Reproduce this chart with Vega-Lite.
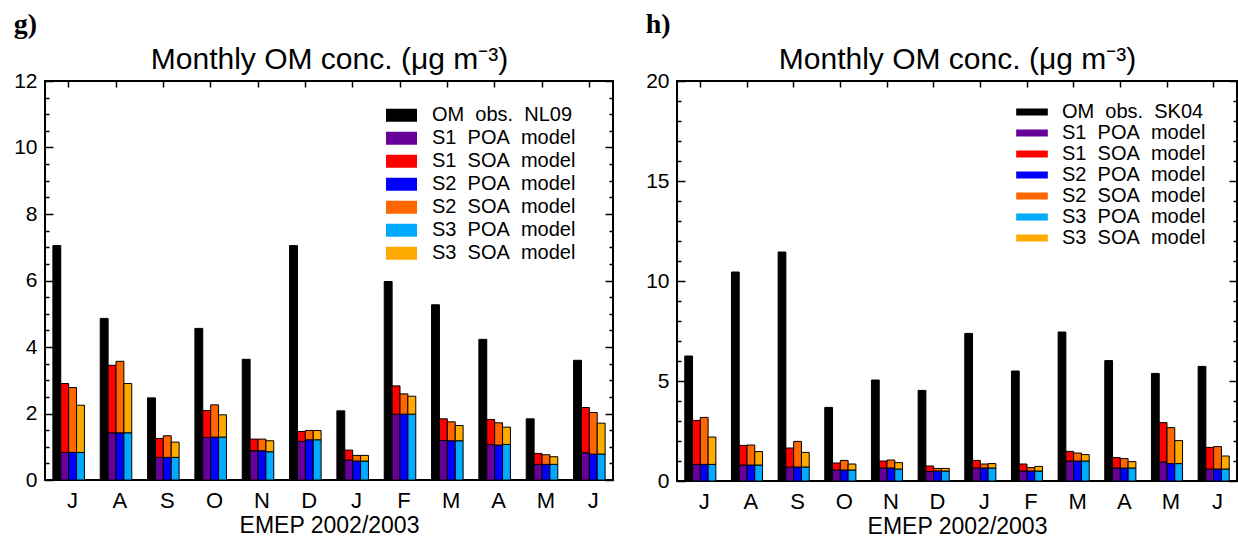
{
  "$schema": "https://vega.github.io/schema/vega-lite/v6.json",
  "padding": {"left": 12, "top": 10, "right": 0, "bottom": 0},
  "background": "white",
  "config": {
    "font": "Liberation Sans",
    "view": {"stroke": "black", "strokeWidth": 2},
    "axis": {"grid": false, "tickColor": "black", "labelColor": "black", "titleColor": "black", "labelFont": "Liberation Sans", "titleFont": "Liberation Sans"},
    "title": {"color": "black"},
    "legend": {"labelColor": "black"}
  },
  "datasets": {
    "g": [
      {"m":1,"b":"obs","s":"obs","v":7.05},{"m":1,"b":"S1","s":"S1 POA","v":0.83},{"m":1,"b":"S1","s":"S1 SOA","v":2.07},{"m":1,"b":"S2","s":"S2 POA","v":0.83},{"m":1,"b":"S2","s":"S2 SOA","v":1.95},{"m":1,"b":"S3","s":"S3 POA","v":0.83},{"m":1,"b":"S3","s":"S3 SOA","v":1.42},
      {"m":2,"b":"obs","s":"obs","v":4.86},{"m":2,"b":"S1","s":"S1 POA","v":1.42},{"m":2,"b":"S1","s":"S1 SOA","v":2.03},{"m":2,"b":"S2","s":"S2 POA","v":1.42},{"m":2,"b":"S2","s":"S2 SOA","v":2.15},{"m":2,"b":"S3","s":"S3 POA","v":1.42},{"m":2,"b":"S3","s":"S3 SOA","v":1.48},
      {"m":3,"b":"obs","s":"obs","v":2.47},{"m":3,"b":"S1","s":"S1 POA","v":0.68},{"m":3,"b":"S1","s":"S1 SOA","v":0.57},{"m":3,"b":"S2","s":"S2 POA","v":0.68},{"m":3,"b":"S2","s":"S2 SOA","v":0.65},{"m":3,"b":"S3","s":"S3 POA","v":0.68},{"m":3,"b":"S3","s":"S3 SOA","v":0.46},
      {"m":4,"b":"obs","s":"obs","v":4.56},{"m":4,"b":"S1","s":"S1 POA","v":1.28},{"m":4,"b":"S1","s":"S1 SOA","v":0.81},{"m":4,"b":"S2","s":"S2 POA","v":1.29},{"m":4,"b":"S2","s":"S2 SOA","v":0.97},{"m":4,"b":"S3","s":"S3 POA","v":1.29},{"m":4,"b":"S3","s":"S3 SOA","v":0.67},
      {"m":5,"b":"obs","s":"obs","v":3.63},{"m":5,"b":"S1","s":"S1 POA","v":0.88},{"m":5,"b":"S1","s":"S1 SOA","v":0.35},{"m":5,"b":"S2","s":"S2 POA","v":0.88},{"m":5,"b":"S2","s":"S2 SOA","v":0.35},{"m":5,"b":"S3","s":"S3 POA","v":0.85},{"m":5,"b":"S3","s":"S3 SOA","v":0.33},
      {"m":6,"b":"obs","s":"obs","v":7.05},{"m":6,"b":"S1","s":"S1 POA","v":1.16},{"m":6,"b":"S1","s":"S1 SOA","v":0.30},{"m":6,"b":"S2","s":"S2 POA","v":1.21},{"m":6,"b":"S2","s":"S2 SOA","v":0.28},{"m":6,"b":"S3","s":"S3 POA","v":1.21},{"m":6,"b":"S3","s":"S3 SOA","v":0.28},
      {"m":7,"b":"obs","s":"obs","v":2.08},{"m":7,"b":"S1","s":"S1 POA","v":0.60},{"m":7,"b":"S1","s":"S1 SOA","v":0.30},{"m":7,"b":"S2","s":"S2 POA","v":0.57},{"m":7,"b":"S2","s":"S2 SOA","v":0.17},{"m":7,"b":"S3","s":"S3 POA","v":0.57},{"m":7,"b":"S3","s":"S3 SOA","v":0.17},
      {"m":8,"b":"obs","s":"obs","v":5.97},{"m":8,"b":"S1","s":"S1 POA","v":1.98},{"m":8,"b":"S1","s":"S1 SOA","v":0.85},{"m":8,"b":"S2","s":"S2 POA","v":1.98},{"m":8,"b":"S2","s":"S2 SOA","v":0.61},{"m":8,"b":"S3","s":"S3 POA","v":1.98},{"m":8,"b":"S3","s":"S3 SOA","v":0.54},
      {"m":9,"b":"obs","s":"obs","v":5.27},{"m":9,"b":"S1","s":"S1 POA","v":1.19},{"m":9,"b":"S1","s":"S1 SOA","v":0.65},{"m":9,"b":"S2","s":"S2 POA","v":1.18},{"m":9,"b":"S2","s":"S2 SOA","v":0.57},{"m":9,"b":"S3","s":"S3 POA","v":1.18},{"m":9,"b":"S3","s":"S3 SOA","v":0.46},
      {"m":10,"b":"obs","s":"obs","v":4.23},{"m":10,"b":"S1","s":"S1 POA","v":1.07},{"m":10,"b":"S1","s":"S1 SOA","v":0.75},{"m":10,"b":"S2","s":"S2 POA","v":1.05},{"m":10,"b":"S2","s":"S2 SOA","v":0.67},{"m":10,"b":"S3","s":"S3 POA","v":1.07},{"m":10,"b":"S3","s":"S3 SOA","v":0.52},
      {"m":11,"b":"obs","s":"obs","v":1.84},{"m":11,"b":"S1","s":"S1 POA","v":0.47},{"m":11,"b":"S1","s":"S1 SOA","v":0.33},{"m":11,"b":"S2","s":"S2 POA","v":0.47},{"m":11,"b":"S2","s":"S2 SOA","v":0.29},{"m":11,"b":"S3","s":"S3 POA","v":0.47},{"m":11,"b":"S3","s":"S3 SOA","v":0.23},
      {"m":12,"b":"obs","s":"obs","v":3.60},{"m":12,"b":"S1","s":"S1 POA","v":0.82},{"m":12,"b":"S1","s":"S1 SOA","v":1.36},{"m":12,"b":"S2","s":"S2 POA","v":0.78},{"m":12,"b":"S2","s":"S2 SOA","v":1.25},{"m":12,"b":"S3","s":"S3 POA","v":0.78},{"m":12,"b":"S3","s":"S3 SOA","v":0.93}
    ],
    "h": [
      {"m":1,"b":"obs","s":"obs","v":6.25},{"m":1,"b":"S1","s":"S1 POA","v":0.83},{"m":1,"b":"S1","s":"S1 SOA","v":2.20},{"m":1,"b":"S2","s":"S2 POA","v":0.83},{"m":1,"b":"S2","s":"S2 SOA","v":2.35},{"m":1,"b":"S3","s":"S3 POA","v":0.83},{"m":1,"b":"S3","s":"S3 SOA","v":1.37},
      {"m":2,"b":"obs","s":"obs","v":10.45},{"m":2,"b":"S1","s":"S1 POA","v":0.80},{"m":2,"b":"S1","s":"S1 SOA","v":0.98},{"m":2,"b":"S2","s":"S2 POA","v":0.80},{"m":2,"b":"S2","s":"S2 SOA","v":1.00},{"m":2,"b":"S3","s":"S3 POA","v":0.80},{"m":2,"b":"S3","s":"S3 SOA","v":0.67},
      {"m":3,"b":"obs","s":"obs","v":11.45},{"m":3,"b":"S1","s":"S1 POA","v":0.70},{"m":3,"b":"S1","s":"S1 SOA","v":0.95},{"m":3,"b":"S2","s":"S2 POA","v":0.70},{"m":3,"b":"S2","s":"S2 SOA","v":1.28},{"m":3,"b":"S3","s":"S3 POA","v":0.70},{"m":3,"b":"S3","s":"S3 SOA","v":0.73},
      {"m":4,"b":"obs","s":"obs","v":3.68},{"m":4,"b":"S1","s":"S1 POA","v":0.55},{"m":4,"b":"S1","s":"S1 SOA","v":0.35},{"m":4,"b":"S2","s":"S2 POA","v":0.55},{"m":4,"b":"S2","s":"S2 SOA","v":0.48},{"m":4,"b":"S3","s":"S3 POA","v":0.55},{"m":4,"b":"S3","s":"S3 SOA","v":0.30},
      {"m":5,"b":"obs","s":"obs","v":5.05},{"m":5,"b":"S1","s":"S1 POA","v":0.65},{"m":5,"b":"S1","s":"S1 SOA","v":0.35},{"m":5,"b":"S2","s":"S2 POA","v":0.65},{"m":5,"b":"S2","s":"S2 SOA","v":0.40},{"m":5,"b":"S3","s":"S3 POA","v":0.60},{"m":5,"b":"S3","s":"S3 SOA","v":0.32},
      {"m":6,"b":"obs","s":"obs","v":4.53},{"m":6,"b":"S1","s":"S1 POA","v":0.47},{"m":6,"b":"S1","s":"S1 SOA","v":0.28},{"m":6,"b":"S2","s":"S2 POA","v":0.50},{"m":6,"b":"S2","s":"S2 SOA","v":0.13},{"m":6,"b":"S3","s":"S3 POA","v":0.50},{"m":6,"b":"S3","s":"S3 SOA","v":0.13},
      {"m":7,"b":"obs","s":"obs","v":7.38},{"m":7,"b":"S1","s":"S1 POA","v":0.65},{"m":7,"b":"S1","s":"S1 SOA","v":0.38},{"m":7,"b":"S2","s":"S2 POA","v":0.65},{"m":7,"b":"S2","s":"S2 SOA","v":0.20},{"m":7,"b":"S3","s":"S3 POA","v":0.65},{"m":7,"b":"S3","s":"S3 SOA","v":0.22},
      {"m":8,"b":"obs","s":"obs","v":5.50},{"m":8,"b":"S1","s":"S1 POA","v":0.50},{"m":8,"b":"S1","s":"S1 SOA","v":0.35},{"m":8,"b":"S2","s":"S2 POA","v":0.50},{"m":8,"b":"S2","s":"S2 SOA","v":0.17},{"m":8,"b":"S3","s":"S3 POA","v":0.50},{"m":8,"b":"S3","s":"S3 SOA","v":0.23},
      {"m":9,"b":"obs","s":"obs","v":7.45},{"m":9,"b":"S1","s":"S1 POA","v":1.00},{"m":9,"b":"S1","s":"S1 SOA","v":0.48},{"m":9,"b":"S2","s":"S2 POA","v":1.00},{"m":9,"b":"S2","s":"S2 SOA","v":0.40},{"m":9,"b":"S3","s":"S3 POA","v":1.00},{"m":9,"b":"S3","s":"S3 SOA","v":0.32},
      {"m":10,"b":"obs","s":"obs","v":6.02},{"m":10,"b":"S1","s":"S1 POA","v":0.65},{"m":10,"b":"S1","s":"S1 SOA","v":0.52},{"m":10,"b":"S2","s":"S2 POA","v":0.65},{"m":10,"b":"S2","s":"S2 SOA","v":0.47},{"m":10,"b":"S3","s":"S3 POA","v":0.65},{"m":10,"b":"S3","s":"S3 SOA","v":0.32},
      {"m":11,"b":"obs","s":"obs","v":5.38},{"m":11,"b":"S1","s":"S1 POA","v":0.95},{"m":11,"b":"S1","s":"S1 SOA","v":1.97},{"m":11,"b":"S2","s":"S2 POA","v":0.87},{"m":11,"b":"S2","s":"S2 SOA","v":1.80},{"m":11,"b":"S3","s":"S3 POA","v":0.87},{"m":11,"b":"S3","s":"S3 SOA","v":1.15},
      {"m":12,"b":"obs","s":"obs","v":5.73},{"m":12,"b":"S1","s":"S1 POA","v":0.60},{"m":12,"b":"S1","s":"S1 SOA","v":1.08},{"m":12,"b":"S2","s":"S2 POA","v":0.60},{"m":12,"b":"S2","s":"S2 SOA","v":1.12},{"m":12,"b":"S3","s":"S3 POA","v":0.60},{"m":12,"b":"S3","s":"S3 SOA","v":0.65}
    ]
  },
  "spacing": 29,
  "hconcat": [
    {
      "width": 568,
      "height": 399,
      "title": {"text": "g)", "anchor": "start", "frame": "bounds", "font": "Liberation Serif", "fontSize": 28, "fontWeight": "bold", "baseline": "alphabetic", "offset": -17},
      "data": {"name": "g"},
      "transform": [{"calculate": "datum.m + '-' + datum.b", "as": "k"}],
      "layer": [
        {
          "mark": {"type": "bar", "stroke": "black", "strokeWidth": 1},
          "encoding": {
            "x": {"field": "k", "type": "ordinal",
              "scale": {"type": "band", "paddingInner": 0, "paddingOuter": 0, "domain": ["1-g1","1-obs","1-S1","1-S2","1-S3","1-g2","2-g1","2-obs","2-S1","2-S2","2-S3","2-g2","3-g1","3-obs","3-S1","3-S2","3-S3","3-g2","4-g1","4-obs","4-S1","4-S2","4-S3","4-g2","5-g1","5-obs","5-S1","5-S2","5-S3","5-g2","6-g1","6-obs","6-S1","6-S2","6-S3","6-g2","7-g1","7-obs","7-S1","7-S2","7-S3","7-g2","8-g1","8-obs","8-S1","8-S2","8-S3","8-g2","9-g1","9-obs","9-S1","9-S2","9-S3","9-g2","10-g1","10-obs","10-S1","10-S2","10-S3","10-g2","11-g1","11-obs","11-S1","11-S2","11-S3","11-g2","12-g1","12-obs","12-S1","12-S2","12-S3","12-g2"]},
              "axis": {"orient": "bottom", "ticks": false, "domain": false, "labelAngle": 0, "labelFontSize": 22, "labelPadding": 10, "bandPosition": 0,
                "values": ["1-S2","2-S2","3-S2","4-S2","5-S2","6-S2","7-S2","8-S2","9-S2","10-S2","11-S2","12-S2"],
                "labelExpr": "['J','A','S','O','N','D','J','F','M','A','M','J'][toNumber(split(datum.value,'-')[0])-1]",
                "title": "EMEP 2002/2003", "titleFontSize": 23, "titleFontWeight": "normal", "titlePadding": 3}},
            "y": {"field": "v", "type": "quantitative", "stack": "zero", "scale": {"domain": [0, 12], "nice": false},
              "axis": {"orient": "left", "values": [0, 2, 4, 6, 8, 10, 12], "tickSize": -8, "tickWidth": 1.5, "labelPadding": 16, "labelFontSize": 21, "domain": false, "title": null}},
            "color": {"field": "s", "type": "nominal",
              "scale": {"domain": ["obs", "S1 POA", "S1 SOA", "S2 POA", "S2 SOA", "S3 POA", "S3 SOA"], "range": ["#000000", "#660099", "#ff0000", "#0000ff", "#ff6600", "#00aaff", "#ffaa00"]},
              "legend": {"orient": "none", "legendX": 341, "legendY": 23, "padding": 0, "title": null, "labelFontSize": 20, "labelFont": "Liberation Sans", "labelOffset": 15, "rowPadding": 0, "clipHeight": 22.6,
                "symbolType": "M-1,-0.42H1V0.42H-1Z", "symbolSize": 961, "symbolStrokeWidth": 0,
                "labelExpr": "datum.label == 'obs' ? 'OM\u00a0 obs.\u00a0 NL09' : replace(datum.label, ' ', '\u00a0 ') + '\u00a0 model'"}},
            "order": {"field": "s", "sort": "ascending"}
          }
        },
        {
          "mark": {"type": "point", "opacity": 0},
          "encoding": {
            "x": {"field": "k", "type": "ordinal", "axis": {"orient": "top", "labels": false, "tickSize": -6, "tickWidth": 1.5, "domain": false, "bandPosition": 0,
              "values": ["1-S2","2-S2","3-S2","4-S2","5-S2","6-S2","7-S2","8-S2","9-S2","10-S2","11-S2","12-S2"],
              "title": "Monthly OM conc. (μg m⁻³)", "titleFontSize": 30, "titleFontWeight": "normal", "titleBaseline": "alphabetic", "titlePadding": 12}},
            "y": {"field": "v", "type": "quantitative", "axis": {"orient": "right", "values": [0, 2, 4, 6, 8, 10, 12], "labels": false, "tickSize": -8, "tickWidth": 1.5, "domain": false, "title": null}}
          }
        },
        {
          "mark": {"type": "point", "opacity": 0},
          "encoding": {
            "x": {"field": "k", "type": "ordinal", "axis": null},
            "y": {"field": "v", "type": "quantitative", "axis": {"orient": "left", "values": [0.5, 1, 1.5, 2.5, 3, 3.5, 4.5, 5, 5.5, 6.5, 7, 7.5, 8.5, 9, 9.5, 10.5, 11, 11.5], "labels": false, "tickSize": -4, "tickWidth": 1.5, "domain": false, "title": null}}
          }
        },
        {
          "mark": {"type": "point", "opacity": 0},
          "encoding": {
            "x": {"field": "k", "type": "ordinal", "axis": null},
            "y": {"field": "v", "type": "quantitative", "axis": {"orient": "right", "values": [0.5, 1, 1.5, 2.5, 3, 3.5, 4.5, 5, 5.5, 6.5, 7, 7.5, 8.5, 9, 9.5, 10.5, 11, 11.5], "labels": false, "tickSize": -4, "tickWidth": 1.5, "domain": false, "title": null}}
          }
        }
      ],
      "resolve": {"axis": {"x": "independent", "y": "independent"}}
    },
    {
      "width": 560,
      "height": 400,
      "title": {"text": "h)", "anchor": "start", "frame": "bounds", "font": "Liberation Serif", "fontSize": 28, "fontWeight": "bold", "baseline": "alphabetic", "offset": -17},
      "data": {"name": "h"},
      "transform": [{"calculate": "datum.m + '-' + datum.b", "as": "k"}],
      "layer": [
        {
          "mark": {"type": "bar", "stroke": "black", "strokeWidth": 1},
          "encoding": {
            "x": {"field": "k", "type": "ordinal",
              "scale": {"type": "band", "paddingInner": 0, "paddingOuter": 0, "domain": ["1-g1","1-obs","1-S1","1-S2","1-S3","1-g2","2-g1","2-obs","2-S1","2-S2","2-S3","2-g2","3-g1","3-obs","3-S1","3-S2","3-S3","3-g2","4-g1","4-obs","4-S1","4-S2","4-S3","4-g2","5-g1","5-obs","5-S1","5-S2","5-S3","5-g2","6-g1","6-obs","6-S1","6-S2","6-S3","6-g2","7-g1","7-obs","7-S1","7-S2","7-S3","7-g2","8-g1","8-obs","8-S1","8-S2","8-S3","8-g2","9-g1","9-obs","9-S1","9-S2","9-S3","9-g2","10-g1","10-obs","10-S1","10-S2","10-S3","10-g2","11-g1","11-obs","11-S1","11-S2","11-S3","11-g2","12-g1","12-obs","12-S1","12-S2","12-S3","12-g2"]},
              "axis": {"orient": "bottom", "ticks": false, "domain": false, "labelAngle": 0, "labelFontSize": 22, "labelPadding": 10, "bandPosition": 0,
                "values": ["1-S2","2-S2","3-S2","4-S2","5-S2","6-S2","7-S2","8-S2","9-S2","10-S2","11-S2","12-S2"],
                "labelExpr": "['J','A','S','O','N','D','J','F','M','A','M','J'][toNumber(split(datum.value,'-')[0])-1]",
                "title": "EMEP 2002/2003", "titleFontSize": 23, "titleFontWeight": "normal", "titlePadding": 3}},
            "y": {"field": "v", "type": "quantitative", "stack": "zero", "scale": {"domain": [0, 20], "nice": false},
              "axis": {"orient": "left", "values": [0, 5, 10, 15, 20], "tickSize": -8, "tickWidth": 1.5, "labelPadding": 16, "labelFontSize": 21, "domain": false, "title": null}},
            "color": {"field": "s", "type": "nominal",
              "scale": {"domain": ["obs", "S1 POA", "S1 SOA", "S2 POA", "S2 SOA", "S3 POA", "S3 SOA"], "range": ["#000000", "#660099", "#ff0000", "#0000ff", "#ff6600", "#00aaff", "#ffaa00"]},
              "legend": {"orient": "none", "legendX": 339, "legendY": 21, "padding": 0, "title": null, "labelFontSize": 20, "labelFont": "Liberation Sans", "labelOffset": 14, "rowPadding": 0, "clipHeight": 20.1,
                "symbolType": "M-1,-0.22H1V0.22H-1Z", "symbolSize": 1000, "symbolStrokeWidth": 0,
                "labelExpr": "datum.label == 'obs' ? 'OM\u00a0 obs.\u00a0 SK04' : replace(datum.label, ' ', '\u00a0 ') + '\u00a0 model'"}},
            "order": {"field": "s", "sort": "ascending"}
          }
        },
        {
          "mark": {"type": "point", "opacity": 0},
          "encoding": {
            "x": {"field": "k", "type": "ordinal", "axis": {"orient": "top", "labels": false, "tickSize": -6, "tickWidth": 1.5, "domain": false, "bandPosition": 0,
              "values": ["1-S2","2-S2","3-S2","4-S2","5-S2","6-S2","7-S2","8-S2","9-S2","10-S2","11-S2","12-S2"],
              "title": "Monthly OM conc. (μg m⁻³)", "titleFontSize": 30, "titleFontWeight": "normal", "titleBaseline": "alphabetic", "titlePadding": 12}},
            "y": {"field": "v", "type": "quantitative", "axis": {"orient": "right", "values": [0, 5, 10, 15, 20], "labels": false, "tickSize": -8, "tickWidth": 1.5, "domain": false, "title": null}}
          }
        },
        {
          "mark": {"type": "point", "opacity": 0},
          "encoding": {
            "x": {"field": "k", "type": "ordinal", "axis": null},
            "y": {"field": "v", "type": "quantitative", "axis": {"orient": "left", "values": [1, 2, 3, 4, 6, 7, 8, 9, 11, 12, 13, 14, 16, 17, 18, 19], "labels": false, "tickSize": -4, "tickWidth": 1.5, "domain": false, "title": null}}
          }
        },
        {
          "mark": {"type": "point", "opacity": 0},
          "encoding": {
            "x": {"field": "k", "type": "ordinal", "axis": null},
            "y": {"field": "v", "type": "quantitative", "axis": {"orient": "right", "values": [1, 2, 3, 4, 6, 7, 8, 9, 11, 12, 13, 14, 16, 17, 18, 19], "labels": false, "tickSize": -4, "tickWidth": 1.5, "domain": false, "title": null}}
          }
        }
      ],
      "resolve": {"axis": {"x": "independent", "y": "independent"}}
    }
  ],
  "resolve": {"scale": {"color": "independent"}, "legend": {"color": "independent"}}
}
